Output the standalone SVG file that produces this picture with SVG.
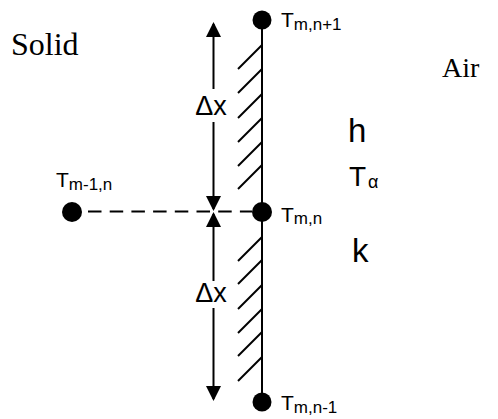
<svg xmlns="http://www.w3.org/2000/svg" width="498" height="419" viewBox="0 0 498 419">
<style>
.serif{font-family:"Liberation Serif","Times New Roman",serif;fill:#000}
.sans{font-family:"Liberation Sans",Arial,sans-serif;fill:#000}
.ln{stroke:#000;stroke-width:2;fill:none}
.hatch{stroke:#000;stroke-width:2;fill:none}
.dash{stroke:#000;stroke-width:2;fill:none;stroke-dasharray:13.5 8.2}
.dot{fill:#000}
.lbl{font-size:21px}
.sub{font-size:17px}
.dx{font-size:27px}
</style>
<defs>
<marker id="ah" markerUnits="userSpaceOnUse" markerWidth="15" markerHeight="15" refX="13" refY="7.5" orient="auto">
<path d="M0,0 L15,7.5 L0,15 Z" fill="#000"/>
</marker>
</defs>
<rect width="498" height="419" fill="#fff"/>
<text class="serif" x="11" y="55" font-size="32">Solid</text>
<text class="serif" x="442" y="77" font-size="28">Air</text>
<text class="sans" x="348" y="141.5" font-size="33">h</text>
<text class="sans" x="349" y="186" font-size="28">T<tspan font-size="18" dx="2" dy="2">α</tspan></text>
<text class="sans" x="352" y="261.5" font-size="33">k</text>
<g id="wall">
<line class="ln" x1="262" y1="20" x2="262" y2="402"/>
<g class="hatch">
<line x1="262" y1="45" x2="238" y2="69"/>
<line x1="262" y1="69" x2="238" y2="93"/>
<line x1="262" y1="94" x2="238" y2="118"/>
<line x1="262" y1="118" x2="238" y2="142"/>
<line x1="262" y1="142" x2="238" y2="166"/>
<line x1="262" y1="165" x2="238" y2="189"/>
<line x1="262" y1="237" x2="238" y2="261"/>
<line x1="262" y1="260" x2="238" y2="284"/>
<line x1="262" y1="285" x2="238" y2="309"/>
<line x1="262" y1="309" x2="238" y2="333"/>
<line x1="262" y1="332" x2="238" y2="356"/>
<line x1="262" y1="357" x2="238" y2="381"/>
</g>
</g>
<g id="connectors">
<line class="dash" x1="88" y1="211.5" x2="252" y2="211.5"/>
<line class="ln" x1="213.5" y1="89" x2="213.5" y2="24" marker-end="url(#ah)"/>
<line class="ln" x1="213.5" y1="122" x2="213.5" y2="209" marker-end="url(#ah)"/>
<line class="ln" x1="213.5" y1="281" x2="213.5" y2="214" marker-end="url(#ah)"/>
<line class="ln" x1="213.5" y1="308" x2="213.5" y2="399" marker-end="url(#ah)"/>
<text class="sans dx" x="211" y="115" text-anchor="middle">Δx</text>
<text class="sans dx" x="211" y="302" text-anchor="middle">Δx</text>
</g>
<g id="node-top">
<circle class="dot" cx="262" cy="20" r="9.5"/>
<text class="sans lbl" x="281" y="27">T<tspan class="sub" dy="2.5">m,n+1</tspan></text>
</g>
<g id="node-left">
<circle class="dot" cx="72" cy="212" r="10"/>
<text class="sans lbl" x="56" y="187">T<tspan class="sub" dy="2.5">m-1,n</tspan></text>
</g>
<g id="node-mid">
<circle class="dot" cx="262" cy="212" r="10"/>
<text class="sans lbl" x="281" y="221.5">T<tspan class="sub" dy="2.5">m,n</tspan></text>
</g>
<g id="node-bottom">
<circle class="dot" cx="262" cy="402" r="9.5"/>
<text class="sans lbl" x="281" y="410">T<tspan class="sub" dy="2.5">m,n-1</tspan></text>
</g>
</svg>
